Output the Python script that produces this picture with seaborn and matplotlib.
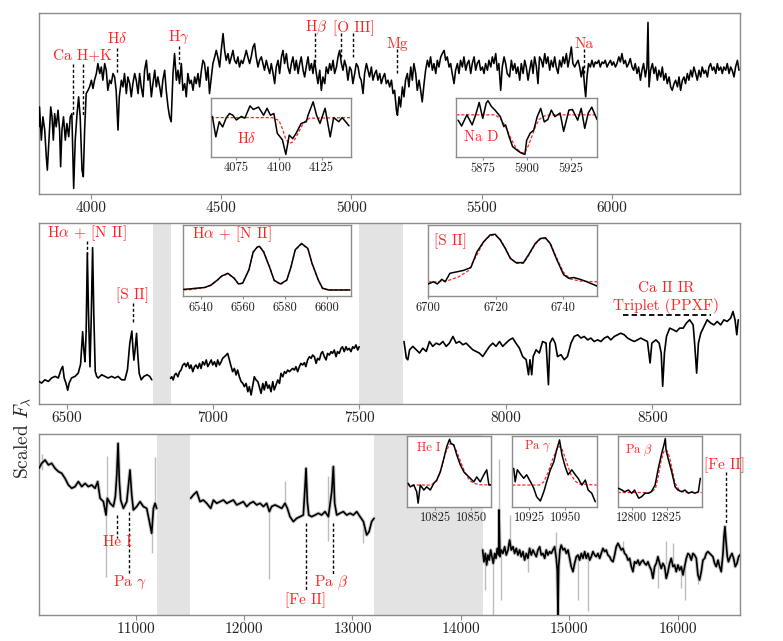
import numpy as np
import pandas as pd
import matplotlib
matplotlib.use("Agg")
import matplotlib.pyplot as plt
import seaborn as sns

# ---- panel 1 : optical blue, (wavelength [A], scaled flux) ----
spec1 = [
    (3802, 37.2), (3804, 48.2), (3811, 29.8), (3817, 42.7), (3824, 35.4), (3830, 20.6), (3834, 13.2),
    (3840, 29.8), (3847, 48.2), (3852, 42.7), (3857, 29.8), (3862, 44.5), (3868, 37.2), (3875, 46.4),
    (3881, 35.4), (3885, 15.1), (3890, 35.4), (3896, 42.7), (3903, 29.8), (3909, 39), (3916, 31.7),
    (3922, 42.7), (3928, 44.5), (3935, 3.1), (3941, 29.8), (3948, 44.5), (3954, 53.8), (3960, 42.7),
    (3967, 13.2), (3972, 9.6), (3977, 35.4), (3983, 55.6), (3990, 57.4), (3996, 59.3), (4003, 63),
    (4009, 58.4), (4015, 63), (4022, 66.7), (4028, 72.2), (4035, 66.7), (4041, 70.3), (4047, 63),
    (4054, 72.2), (4060, 68.5), (4066, 57.4), (4073, 63), (4079, 61.1), (4086, 66.7), (4092, 64.8),
    (4098, 57.4), (4105, 35.4), (4110, 53.8), (4118, 63), (4124, 59.3), (4130, 66.7), (4137, 55.6),
    (4143, 64.8), (4150, 61.1), (4156, 53.8), (4162, 61.1), (4169, 66.7), (4175, 63), (4182, 55.6),
    (4188, 66.7), (4194, 59.3), (4201, 53.8), (4207, 68.5), (4214, 74), (4220, 63), (4226, 66.7),
    (4233, 53.8), (4239, 61.1), (4246, 68.5), (4252, 59.3), (4258, 64.8), (4265, 59.3), (4271, 53.8),
    (4277, 63), (4284, 68.5), (4290, 57.4), (4297, 48.2), (4303, 42.7), (4309, 40), (4316, 66.7),
    (4322, 77.7), (4329, 63), (4335, 68.5), (4341, 61.1), (4348, 72.2), (4354, 57.4), (4361, 61.1),
    (4367, 53.8), (4373, 66.7), (4380, 61.1), (4386, 63), (4393, 57.4), (4399, 64.8), (4405, 61.1),
    (4412, 66.7), (4418, 59.3), (4425, 68.5), (4431, 74), (4437, 72.2), (4444, 63), (4450, 70.3),
    (4456, 55.6), (4463, 64.8), (4469, 72.2), (4476, 75.9), (4482, 79.5), (4488, 75.9), (4495, 70.3),
    (4501, 79.5), (4508, 88.8), (4514, 79.5), (4520, 74), (4527, 77.7), (4533, 72.2), (4540, 75.9),
    (4546, 79.5), (4552, 74), (4559, 72.2), (4565, 75.9), (4571, 70.3), (4578, 74), (4584, 72.2),
    (4591, 75.9), (4597, 79.5), (4603, 75.9), (4610, 72.2), (4616, 75.9), (4623, 81.4), (4629, 83.2),
    (4635, 75.9), (4642, 70.3), (4648, 74), (4655, 75.9), (4661, 72.2), (4667, 68.5), (4674, 74),
    (4680, 70.3), (4687, 66.7), (4693, 72.2),
    (4700, 66.7), (4706, 61.1), (4712, 70.3), (4719, 74), (4725, 66.7), (4732, 75.9), (4738, 79.5),
    (4744, 72.2), (4751, 77.7), (4757, 70.3), (4764, 66.7), (4770, 72.2), (4776, 75.9), (4783, 68.5),
    (4789, 74), (4796, 66.7), (4802, 72.2), (4808, 75.9), (4815, 68.5), (4821, 64.8), (4827, 70.3),
    (4834, 75.9), (4840, 68.5), (4847, 72.2), (4853, 66.7), (4859, 74), (4866, 66.7), (4872, 61.1),
    (4879, 68.5), (4885, 57.4), (4891, 64.8), (4898, 61.1), (4904, 70.3), (4911, 66.7), (4917, 72.2),
    (4923, 68.5), (4930, 74), (4936, 66.7), (4943, 70.3), (4949, 75.9), (4955, 79.5), (4962, 72.2),
    (4968, 68.5), (4974, 74), (4981, 70.3), (4987, 63), (4994, 70.3), (5000, 68.5), (5006, 61.1),
    (5013, 66.7), (5019, 72.2), (5026, 70.3), (5032, 64.8), (5038, 63), (5045, 55.6), (5051, 66.7),
    (5058, 72.2), (5064, 68.5), (5070, 64.8), (5077, 70.3), (5083, 63), (5090, 66.7), (5096, 68.5),
    (5102, 63), (5109, 66.7), (5115, 61.1), (5122, 64.8), (5128, 66.7), (5134, 61.1), (5141, 63),
    (5147, 59.3), (5154, 63), (5160, 55.6), (5166, 57.4), (5173, 46.4), (5177, 43.6), (5183, 53.8),
    (5189, 48.2), (5196, 59.3), (5202, 53.8), (5208, 63), (5215, 66.7), (5221, 59.3), (5228, 70.3),
    (5234, 63), (5240, 72.2), (5247, 66.7), (5253, 57.4), (5260, 63), (5266, 57.4), (5272, 51),
    (5279, 61.1), (5285, 68.5), (5292, 74), (5298, 70.3), (5304, 75.9), (5311, 68.5), (5317, 72.2),
    (5324, 66.7), (5330, 74), (5336, 70.3), (5343, 75.9), (5349, 77.7), (5356, 79.5), (5362, 74),
    (5368, 75.9), (5375, 70.3), (5381, 72.2), (5387, 66.7), (5394, 61.1), (5400, 68.5), (5407, 72.2),
    (5413, 66.7), (5419, 74), (5426, 70.3), (5432, 75.9), (5439, 68.5), (5445, 72.2), (5451, 74),
    (5458, 66.7), (5464, 72.2), (5471, 75.9), (5477, 68.5), (5483, 72.2), (5490, 74), (5496, 68.5),
    (5503, 70.3), (5509, 66.7), (5515, 72.2), (5522, 68.5), (5528, 74), (5535, 70.3), (5541, 75.9),
    (5547, 72.2), (5554, 77.7), (5560, 68.5), (5566, 72.2), (5573, 57.4), (5579, 70.3), (5586, 75.9),
    (5592, 72.2), (5598, 66.7),
    (5607, 64.8), (5614, 74), (5620, 68.5), (5627, 72.2), (5633, 66.7), (5639, 70.3), (5646, 63),
    (5652, 72.2), (5659, 66.7), (5665, 74), (5671, 70.3), (5678, 63), (5684, 68.5), (5691, 74),
    (5697, 66.7), (5703, 75.9), (5710, 70.3), (5716, 61.1), (5722, 75.9), (5729, 74), (5735, 70.3),
    (5742, 77.7), (5748, 72.2), (5754, 75.9), (5761, 68.5), (5767, 74), (5774, 70.3), (5780, 75.9),
    (5786, 70.3), (5793, 66.7), (5799, 74), (5806, 70.3), (5812, 75.9), (5818, 72.2), (5825, 77.7),
    (5831, 70.3), (5838, 75.9), (5844, 81.4), (5850, 72.2), (5857, 70.3), (5863, 72.2), (5870, 74),
    (5876, 70.3), (5882, 64.8), (5889, 70.3), (5895, 59.3), (5899, 53.8), (5904, 64.8), (5910, 72.2),
    (5917, 70.3), (5923, 74), (5930, 70.3), (5936, 73.1), (5942, 72.2), (5949, 74), (5955, 70.3),
    (5962, 73.1), (5968, 72.2), (5974, 74), (5981, 70.3), (5987, 72.2), (5994, 74), (6000, 71.3),
    (6006, 73.1), (6013, 70.3), (6019, 72.2), (6026, 75.9), (6032, 73.1), (6038, 77.7), (6045, 72.2),
    (6051, 74), (6057, 70.3), (6064, 72.2), (6070, 75), (6077, 70.3), (6083, 68.5), (6089, 72.2),
    (6096, 66.7), (6102, 70.3), (6109, 63), (6115, 68.5), (6121, 72.2), (6128, 64.8), (6134, 70.3),
    (6138, 95), (6142, 59.3), (6148, 68.5), (6155, 72.2), (6161, 66.7), (6167, 70.3), (6174, 63),
    (6180, 68.5), (6187, 64.8), (6193, 70.3), (6199, 63), (6206, 66.7), (6212, 61.1), (6219, 64.8),
    (6225, 59.3), (6231, 57.4), (6238, 61.1), (6244, 63), (6251, 59.3), (6257, 64.8), (6263, 57.4),
    (6270, 63), (6276, 64.8), (6282, 61.1), (6289, 66.7), (6295, 63), (6302, 68.5), (6308, 64.8),
    (6314, 70.3), (6321, 66.7), (6327, 63), (6334, 68.5), (6340, 64.8), (6346, 70.3), (6353, 66.7),
    (6359, 68.5), (6366, 64.8), (6372, 70.3), (6378, 72.2), (6385, 68.5), (6391, 70.3), (6398, 66.7),
    (6404, 72.2), (6410, 68.5), (6417, 70.3), (6423, 66.7), (6429, 70.3), (6436, 68.5), (6442, 72.2),
    (6449, 66.7), (6455, 70.3), (6461, 68.5), (6468, 64.8), (6474, 70.3), (6481, 74), (6487, 68.5),
]

# ---- panel 2 : optical red, three pieces between the telluric gaps ----
w2a = [6406, 6415, 6426, 6438, 6449, 6461, 6472, 6481, 6487, 6492,
       6498, 6504, 6509, 6517, 6529, 6540, 6548, 6555, 6559, 6563,
       6567, 6571, 6575, 6580, 6584, 6589, 6593, 6598, 6603, 6608,
       6620, 6631, 6642, 6654, 6665, 6676, 6688, 6699, 6708, 6716,
       6723, 6727, 6730, 6734, 6739, 6743, 6748, 6755, 6764, 6775,
       6784, 6791]
f2a = [12.5, 11.6, 13.4, 12.5, 14.4, 15.3, 14.4, 19, 20.8, 14.4,
       11.6, 7.6, 11.6, 14.4, 15.3, 17.1, 22, 40, 30, 23.4,
       40, 83.5, 50, 20.6, 45, 86.5, 50, 18, 15.3, 14.4,
       16.2, 15.3, 14.4, 15.3, 14.4, 15.3, 13.4, 13.4, 19, 33.7,
       40.4, 30, 24.3, 30, 39.1, 28, 17, 13.4, 15.3, 16.2,
       15.3, 13.4]
spec2b = [
    (6855, 14.2), (6859, 15.1), (6864, 13.3), (6869, 16.1), (6874, 17), (6880, 15.1), (6886, 17.9),
    (6891, 18.8), (6897, 21.6), (6903, 22.5), (6908, 20.7), (6914, 22.9), (6920, 19.7), (6925, 21.6),
    (6931, 17.9), (6937, 20.7), (6942, 21.6), (6948, 19.7), (6954, 22.5), (6959, 19.7), (6965, 23.4),
    (6971, 21.6), (6977, 24.4), (6982, 20.7), (6988, 22.5), (6994, 24.4), (6999, 21.6), (7005, 23.4),
    (7011, 20.7), (7016, 24.4), (7022, 21.6), (7028, 23.4), (7033, 25.3), (7039, 26.2), (7045, 27.1),
    (7050, 28), (7056, 24.4), (7062, 20.7), (7067, 17.9), (7073, 19.7), (7079, 16.1), (7084, 18.8),
    (7090, 15.1), (7096, 12.4), (7102, 11.4), (7107, 9.6), (7113, 11.4), (7119, 6.8), (7124, 9.6),
    (7130, 5), (7136, 10.5), (7141, 15.1), (7147, 13.3), (7153, 12.4), (7158, 9.6), (7164, 5.9),
    (7170, 11.4), (7175, 7.8), (7181, 12.4), (7187, 8.7), (7192, 10.5), (7198, 6.8), (7204, 12.4),
    (7209, 7.8), (7215, 10.5), (7221, 13.3), (7227, 11.4), (7232, 17), (7238, 15.1), (7244, 17.9),
    (7249, 17), (7255, 18.8), (7261, 17.9), (7266, 18.8), (7272, 19.7), (7278, 18.8), (7283, 20.7),
    (7289, 17.9), (7295, 20.7), (7300, 22.5), (7306, 21.6), (7312, 22.9), (7317, 20.7), (7323, 24.4),
    (7329, 26.2), (7335, 25.3), (7340, 27.1), (7346, 26.2), (7352, 22.5), (7357, 25.3), (7363, 24.4),
    (7369, 28), (7374, 29), (7380, 26.2), (7386, 24.4), (7391, 28), (7397, 27.1), (7403, 29),
    (7408, 28), (7414, 29.9), (7420, 26.2), (7425, 29), (7431, 28), (7437, 30.8), (7442, 31.7),
    (7448, 29), (7454, 31.7), (7459, 29.9), (7465, 30.8), (7471, 29), (7477, 31.7), (7482, 30.8),
    (7488, 32.7), (7494, 29.9), (7499, 31.7),
]
w2c = [7652, 7660, 7665, 7671, 7682, 7694, 7705, 7716, 7728, 7739,
       7750, 7762, 7773, 7785, 7796, 7807, 7819, 7830, 7841, 7853,
       7864, 7875, 7887, 7898, 7909, 7921, 7932, 7944, 7955, 7966,
       7978, 7989, 8000, 8012, 8023, 8034, 8046, 8057, 8069, 8077,
       8082, 8088, 8093, 8103, 8114, 8125, 8137, 8145, 8150, 8159,
       8168, 8176, 8188, 8199, 8210, 8222, 8233, 8245, 8256, 8267,
       8279, 8290, 8301, 8313, 8324, 8336, 8347, 8358, 8370, 8381,
       8392, 8404, 8415, 8426, 8438, 8449, 8460, 8472, 8483, 8492,
       8498, 8512, 8523, 8530, 8535, 8541, 8548, 8559, 8571, 8582,
       8593, 8605, 8616, 8627, 8639, 8644, 8651, 8657, 8665, 8676,
       8687, 8699, 8710, 8721, 8733, 8744, 8755, 8767, 8775, 8782,
       8788, 8793]
f2c = [34.6, 25.4, 24.5, 30, 31.9, 30, 28.2, 30.9, 29.1, 34.6,
       31.9, 33.7, 32.8, 34.6, 31.9, 33.7, 37.4, 33.7, 34.6, 32.8,
       33.7, 31.9, 30, 29.1, 28.2, 26.3, 29.1, 31.9, 33.7, 31.9,
       34.6, 31.9, 33.7, 35.5, 36.5, 33.7, 30.9, 26.3, 24.5, 16.2,
       24.5, 16.2, 26.3, 30, 28.2, 34.6, 33.7, 10.7, 33.7, 36.5,
       33.7, 26.3, 27.3, 24.5, 26.3, 33.7, 37.4, 38.3, 36.5, 37.4,
       35.5, 36.5, 34.6, 35.5, 34.6, 36.5, 37.4, 35.5, 37.4, 38.3,
       39.2, 38.3, 36.5, 35.5, 34.6, 35.5, 36.5, 35.5, 34.6, 22.7,
       33.7, 35.5, 33.7, 28.2, 9.8, 28.2, 37.4, 42, 41.1, 40.1,
       42, 42, 44.8, 46.6, 43.8, 33.7, 17.1, 33.7, 39.2, 42.9,
       46.6, 44.8, 43.8, 45.7, 43.8, 46.6, 45.7, 47.5, 51.2, 46.6,
       38.3, 46.6]

# ---- panel 3 : near infrared (smoothed spectrum) ----
w3a = [10110, 10135, 10166, 10197, 10227, 10258, 10289, 10319, 10350, 10381,
       10412, 10442, 10473, 10504, 10535, 10565, 10596, 10627, 10651, 10673,
       10704, 10728, 10740, 10765, 10796, 10814, 10827, 10839, 10851, 10863,
       10888, 10919, 10949, 10965, 10980, 11011, 11042, 11072, 11103, 11128,
       11149, 11165, 11180, 11195]
f3a = [81, 83.8, 85.6, 82.9, 83.8, 81, 79.2, 78.3, 75.5, 71.8,
       70, 70.9, 73.7, 70.9, 72.7, 70.9, 71.8, 70, 73.7, 64.5,
       62.6, 55.2, 64.5, 61.7, 59.9, 65.4, 77.3, 94.8, 73.7, 63.5,
       58.9, 62.6, 80.1, 66.3, 58, 59.9, 62.6, 59.9, 58.9, 51.6,
       45.1, 58.9, 61.7, 58.9]
w3b = [11509, 11533, 11564, 11595, 11625, 11656, 11693, 11718, 11748, 11779,
       11810, 11841, 11871, 11902, 11933, 11964, 11994, 12025, 12056, 12086,
       12117, 12148, 12179, 12209, 12234, 12255, 12286, 12317, 12348, 12378,
       12400, 12424, 12455, 12486, 12517, 12547, 12560, 12572, 12584, 12597,
       12624, 12655, 12686, 12716, 12747, 12778, 12809, 12824, 12836, 12855,
       12885, 12916, 12947, 12978, 13008, 13039, 13070, 13101, 13131, 13153,
       13177, 13199]
f3b = [64.5, 66.3, 68.1, 62.6, 63.5, 61.7, 58.9, 63.5, 61.7, 62.6,
       63.5, 61.7, 62.6, 63.5, 60.8, 61.7, 62.6, 59.9, 61.7, 62.6,
       60.8, 61.7, 59.9, 61.7, 57.1, 59.9, 60.8, 59.9, 58.9, 61.7,
       58.9, 54.3, 51.6, 53.4, 54.3, 55.2, 68.1, 81, 62.6, 55.2,
       54.3, 55.2, 56.2, 55.2, 57.1, 54.3, 68.1, 82, 61.7, 55.2,
       56.2, 57.1, 55.2, 56.2, 55.2, 57.1, 54.3, 51.6, 44.2, 46,
       51.6, 53.4]
spec3c = [
    (14200, 35.9), (14212, 29.4), (14225, 34), (14237, 27.6), (14249, 33.1), (14261, 30.3), (14274, 35.9),
    (14286, 32.2), (14298, 28.5), (14311, 34), (14323, 31.3), (14335, 36.8), (14348, 33.1), (14351, 58),
    (14360, 32.2), (14372, 35.9), (14387, 34), (14403, 37.7), (14418, 33.1), (14434, 35.9), (14449, 41.4),
    (14464, 35.9), (14480, 37.7), (14495, 34), (14510, 36.8), (14526, 33.1), (14541, 35.9), (14556, 32.2),
    (14572, 35), (14587, 30.3), (14603, 34), (14618, 31.3), (14633, 36.8), (14649, 33.1), (14664, 35.9),
    (14679, 34), (14695, 32.2), (14710, 35.9), (14726, 37.7), (14741, 33.1), (14756, 34), (14772, 31.3),
    (14787, 35.9), (14802, 33.1), (14818, 35), (14833, 34), (14848, 35.9), (14864, 37.7), (14879, 31.3),
    (14888, 24.8), (14895, 0), (14901, 26.7), (14913, 35.9), (14925, 38.6), (14941, 35.9), (14956, 36.8),
    (14972, 34), (14987, 35.9), (15002, 31.3), (15017, 26.7), (15033, 23.9), (15048, 28.5), (15064, 32.2),
    (15079, 33.1), (15094, 30.3), (15110, 34), (15125, 31.3), (15141, 35), (15156, 31.3), (15171, 34),
    (15187, 30.3), (15202, 32.2), (15217, 35), (15233, 33.1), (15248, 32.2), (15263, 34), (15279, 31.3),
    (15294, 34), (15309, 36.8), (15325, 35), (15340, 35.9), (15355, 33.1), (15371, 32.2), (15386, 30.3),
    (15402, 29.4), (15417, 33.1), (15432, 37.7), (15448, 39.6), (15463, 37.7), (15478, 35.9), (15494, 36.8),
    (15509, 34), (15524, 33.1), (15540, 30.3), (15555, 31.3), (15571, 26.7), (15586, 23.9), (15601, 29.4),
    (15617, 28.5), (15632, 30.3), (15647, 27.6), (15663, 29.4), (15678, 30.3), (15694, 28.5), (15709, 27.6),
    (15724, 29.4), (15740, 26.7), (15755, 24.8), (15770, 20.2), (15786, 26.7), (15801, 28.5), (15816, 32.2),
    (15832, 28.5), (15847, 25.7), (15862, 28.5), (15878, 26.7), (15893, 20.2), (15909, 23.9), (15924, 28.5),
    (15939, 31.3), (15955, 26.7), (15970, 27.6), (15985, 23.9), (16001, 27.6), (16016, 24.8), (16032, 26.7),
    (16047, 22.1), (16062, 26.7), (16078, 31.3), (16093, 34), (16108, 33.1), (16124, 30.3), (16139, 34),
    (16154, 33.1), (16170, 31.3), (16185, 22.1), (16200, 19.3), (16216, 23.9), (16231, 30.3), (16247, 31.3),
    (16262, 34), (16277, 35), (16293, 34), (16308, 33.1), (16323, 32.2), (16339, 28.5), (16354, 26.7),
    (16370, 30.3), (16385, 26.7), (16400, 23.9), (16416, 34), (16425, 43.2), (16434, 48.8), (16443, 41.4),
    (16456, 32.2), (16466, 29.4), (16483, 32.2), (16499, 34), (16514, 31.3), (16529, 26.7), (16545, 28.5),
    (16560, 32.2), (16572, 33.1),
]
# unsmoothed spectrum: spikes that stick out of the smoothed one (wavelength, low, high)
spike_w = [10135, 10728, 10740, 11149, 11180, 12234, 12378, 12770, 12778, 13101,
           14218, 14295, 14351, 14372, 14455, 14618, 14879, 15079, 15171, 15494,
           15816, 15893, 15955, 16032, 16062, 16185]
spike_lo = [80, 21, 64, 34, 58, 20, 62, 41, 58, 40,
            14, 0, 40, 8, 38, 24, 33, 8, 2, 36,
            15, 28, 27, 15, 8, 17]
spike_hi = [89, 58, 88, 45, 87, 57, 74, 55, 77, 51,
            30, 30, 86, 34, 55, 31, 46, 33, 33, 41,
            32, 41, 40, 27, 27, 22]

# masked telluric bands
bands2 = [(6794, 6855), (7500, 7650)]
bands3 = [(11200, 11500), (13200, 14200)]

# ---- zoom-in insets: data (black) and fit (red dashed) ----
hd_w = [4061, 4063, 4065, 4067, 4069, 4071, 4073, 4075, 4078, 4080, 4083, 4085,
        4088, 4091, 4093, 4095, 4097, 4099, 4102, 4104, 4106, 4108, 4110, 4113,
        4116, 4117, 4120, 4122, 4124, 4127, 4130, 4132, 4135, 4137, 4139, 4141]
hd_f = [0.69, 0.34, 0.60, 0.51, 0.66, 0.74, 0.71, 0.63, 0.69, 0.66, 0.87, 0.81,
        0.85, 0.71, 0.83, 0.71, 0.74, 0.40, 0.29, 0.04, 0.37, 0.31, 0.40, 0.57,
        0.60, 0.71, 0.94, 0.71, 0.57, 0.83, 0.34, 0.67, 0.60, 0.67, 0.60, 0.53]
hd_mw = [4060, 4096, 4100, 4102, 4104, 4106, 4108, 4110, 4112, 4114, 4116, 4118, 4142]
hd_mf = [0.67, 0.67, 0.62, 0.48, 0.30, 0.23, 0.25, 0.33, 0.45, 0.56, 0.63, 0.66, 0.67]

nad_w = [5861, 5863, 5866, 5869, 5871, 5873, 5875, 5877, 5878, 5880, 5882, 5885, 5887,
         5888, 5890, 5892, 5895, 5897, 5899, 5900, 5902, 5904, 5906, 5908, 5910, 5912,
         5914, 5916, 5919, 5921, 5924, 5926, 5929, 5931, 5933, 5935, 5937, 5940]
nad_f = [0.63, 0.53, 0.72, 0.55, 0.72, 0.93, 0.66, 0.92, 0.96, 0.86, 0.80, 0.69, 0.52,
         0.55, 0.35, 0.18, 0.11, 0.07, 0.05, 0.29, 0.41, 0.46, 0.69, 0.83, 0.60, 0.64,
         0.80, 0.69, 0.75, 0.44, 0.80, 0.81, 0.63, 0.83, 0.49, 0.75, 0.85, 0.64]
nad_mw = [5860, 5882, 5885, 5888, 5891, 5894, 5897, 5899, 5901, 5903, 5905, 5907, 5910, 5913, 5940]
nad_mf = [0.72, 0.72, 0.66, 0.52, 0.32, 0.15, 0.08, 0.08, 0.20, 0.36, 0.52, 0.64, 0.70, 0.72, 0.72]

ha_w = [6532, 6535, 6538, 6542, 6545, 6548, 6550, 6553, 6556, 6558, 6560, 6563, 6565, 6567, 6568,
        6570, 6573, 6575, 6578, 6581, 6583, 6585, 6588, 6591, 6593, 6596, 6598, 6601, 6605, 6611]
ha_f = [0.094, 0.10, 0.11, 0.12, 0.155, 0.225, 0.28, 0.32, 0.25, 0.17, 0.18, 0.37, 0.62, 0.69, 0.70,
        0.62, 0.39, 0.22, 0.17, 0.225, 0.41, 0.65, 0.74, 0.67, 0.46, 0.225, 0.11, 0.085, 0.085, 0.085]
ha_mf = [0.085, 0.09, 0.10, 0.12, 0.15, 0.22, 0.28, 0.31, 0.25, 0.17, 0.18, 0.37, 0.61, 0.69, 0.70,
         0.63, 0.40, 0.22, 0.16, 0.22, 0.41, 0.65, 0.73, 0.67, 0.46, 0.22, 0.10, 0.085, 0.085, 0.085]

s2_w = [6700, 6701.5, 6702.7, 6704, 6705, 6706.4, 6708.4, 6710.4, 6712.6, 6714.4,
        6716.4, 6718.3, 6719.8, 6721.3, 6722.8, 6724.3, 6726, 6728.2, 6729.7, 6731.7,
        6733.2, 6734.7, 6736.1, 6738.1, 6740.1, 6741.6, 6743.1, 6745, 6747, 6750]
s2_f = [0.17, 0.20, 0.17, 0.235, 0.20, 0.32, 0.34, 0.36, 0.40, 0.62,
        0.765, 0.86, 0.87, 0.79, 0.67, 0.53, 0.47, 0.47, 0.58, 0.74,
        0.81, 0.82, 0.74, 0.51, 0.30, 0.25, 0.26, 0.235, 0.20, 0.14]
s2_mw = [6700, 6703, 6706, 6709, 6712, 6714.4, 6716.4, 6718.3, 6719.8, 6721.3, 6722.8, 6724.3,
         6726, 6728.2, 6729.7, 6731.7, 6733.2, 6734.7, 6736.1, 6738.1, 6740.1, 6742, 6745, 6750]
s2_mf = [0.20, 0.20, 0.22, 0.27, 0.36, 0.58, 0.76, 0.85, 0.86, 0.80, 0.68, 0.54,
         0.46, 0.46, 0.57, 0.73, 0.80, 0.81, 0.75, 0.53, 0.33, 0.24, 0.21, 0.20]

he_w = [10806, 10807.5, 10810, 10812, 10813, 10814.5, 10817, 10819, 10821.5, 10824,
        10826, 10828.5, 10831, 10833, 10835, 10836, 10838, 10840, 10842.5, 10845,
        10847, 10849.5, 10852, 10854, 10856.5, 10859, 10861, 10862.5, 10864]
he_f = [0.33, 0.28, 0.305, 0.21, 0.05, 0.305, 0.235, 0.28, 0.235, 0.33,
        0.375, 0.49, 0.68, 0.845, 0.95, 0.89, 0.87, 0.73, 0.59, 0.49,
        0.45, 0.40, 0.35, 0.42, 0.35, 0.45, 0.52, 0.305, 0.31]
he_mw = [10805, 10822, 10826, 10829, 10832, 10835, 10837, 10840, 10843, 10846, 10849, 10852, 10856, 10864]
he_mf = [0.305, 0.305, 0.36, 0.52, 0.75, 0.88, 0.89, 0.78, 0.62, 0.47, 0.37, 0.33, 0.31, 0.305]

pag_w = [10914, 10915, 10916.5, 10919, 10921, 10923, 10925.7, 10928, 10930, 10932.6,
         10935, 10937, 10939.6, 10942, 10944, 10946, 10947.7, 10950, 10952, 10954.6,
         10957, 10959, 10961.6, 10964, 10966, 10968.5, 10971]
pag_f = [0.54, 0.35, 0.52, 0.45, 0.40, 0.45, 0.35, 0.26, 0.14, 0.08,
         0.21, 0.35, 0.52, 0.63, 0.80, 0.94, 0.73, 0.56, 0.45, 0.52,
         0.45, 0.40, 0.305, 0.375, 0.235, 0.19, 0.07]
pag_mw = [10913, 10932, 10935, 10938, 10941, 10944, 10946, 10948, 10951, 10954, 10957, 10960, 10972]
pag_mf = [0.305, 0.305, 0.35, 0.48, 0.66, 0.80, 0.85, 0.80, 0.62, 0.45, 0.36, 0.32, 0.305]

pab_w = [12790.5, 12793, 12795, 12797.6, 12800, 12802, 12805, 12807, 12809.5, 12812,
         12814, 12816.7, 12819, 12821.4, 12823, 12824, 12824.5, 12826, 12828.6, 12831,
         12833, 12835.7, 12838, 12840.5, 12843, 12845, 12847.6, 12849]
pab_f = [0.26, 0.235, 0.21, 0.235, 0.19, 0.235, 0.12, 0.14, 0.19, 0.19,
         0.21, 0.305, 0.54, 0.75, 0.87, 0.96, 0.80, 0.68, 0.49, 0.28,
         0.235, 0.21, 0.235, 0.19, 0.21, 0.19, 0.21, 0.40]
pab_mw = [12790, 12814, 12817, 12819, 12821, 12823, 12825, 12827, 12829, 12831, 12834, 12838, 12850]
pab_mf = [0.20, 0.20, 0.26, 0.43, 0.65, 0.78, 0.80, 0.70, 0.51, 0.33, 0.23, 0.20, 0.20]

RED = "#ff2424"
GREY = "#8c8c8c"
DASH = (0, (2.2, 1.6))

sns.set_theme(style="white")
plt.rcParams["font.family"] = ["cmr10", "DejaVu Serif"]
plt.rcParams["mathtext.fontset"] = "cm"
plt.rcParams["axes.unicode_minus"] = False
plt.rcParams["axes.formatter.use_mathtext"] = True

w1, f1 = zip(*spec1)
w2b, f2b = zip(*spec2b)
w3c, f3c = zip(*spec3c)


def spec(ax, parts, color="black", lw=1.2, ls="-", zorder=3):
    frames = [pd.DataFrame({"w": list(w), "f": list(f), "seg": i}) for i, (w, f) in enumerate(parts)]
    df = pd.concat(frames, ignore_index=True)
    sns.lineplot(data=df, x="w", y="f", units="seg", estimator=None, sort=False,
                 color=color, lw=lw, linestyle=ls, ax=ax, zorder=zorder)
    ax.set_xlabel("")
    ax.set_ylabel("")


def style(ax, xlim, ticks, ylim=(0, 100), size=11, tlen=3.5):
    ax.set_xlim(*xlim)
    ax.set_ylim(*ylim)
    ax.set_xticks(ticks)
    ax.set_xticklabels([str(t) for t in ticks])
    ax.set_yticks([])
    ax.tick_params(axis="x", bottom=True, direction="out", length=tlen, width=0.8,
                   color=GREY, labelsize=size, pad=2, labelcolor="#222222")
    for s in ax.spines.values():
        s.set_color(GREY)
        s.set_linewidth(1.0)


def mark(ax, w, y0, y1, label=None, ty=None, tx=None, fs=11):
    tr = ax.get_xaxis_transform()
    ax.plot([w, w], [y0, y1], transform=tr, color="black", lw=1.0, ls=DASH, zorder=4)
    if label is not None:
        ax.text(w if tx is None else tx, ty, label, transform=tr, color=RED,
                fontsize=fs, ha="center", va="center", zorder=5)


def inset(rect, w, f, mw, mf, xlim, ticks, label, lx, ly, fs=10.5):
    a = fig.add_axes(rect, zorder=10)
    a.set_facecolor("white")
    spec(a, [(mw, mf)], color=RED, lw=0.9, ls=(0, (2.5, 1.5)), zorder=2)
    spec(a, [(w, f)], color="black", lw=1.1, zorder=3)
    style(a, xlim, ticks, ylim=(0, 1), size=9, tlen=2)
    a.text(lx, ly, label, transform=a.transAxes, color=RED, fontsize=fs,
           ha="center", va="center")
    return a


fig = plt.figure(figsize=(7.83, 6.41), dpi=100)
ax1 = fig.add_axes([0.0498, 0.6973, 0.8953, 0.2819])
ax2 = fig.add_axes([0.0498, 0.3697, 0.8953, 0.2819])
ax3 = fig.add_axes([0.0498, 0.0406, 0.8953, 0.2824])

# panel 1
spec(ax1, [(w1, f1)], lw=1.15)
style(ax1, (3802, 6491), [4000, 4500, 5000, 5500, 6000])
mark(ax1, 3934, 0.72, 0.43, "Ca H+K", 0.77, tx=3968)
mark(ax1, 3969, 0.72, 0.43)
mark(ax1, 4102, 0.81, 0.67, r"H$\delta$", 0.86)
mark(ax1, 4340, 0.82, 0.72, r"H$\gamma$", 0.87)
mark(ax1, 4861, 0.89, 0.73, r"H$\beta$", 0.92, tx=4865)
mark(ax1, 4959, 0.89, 0.76, "[O III]", 0.92, tx=5008)
mark(ax1, 5007, 0.89, 0.76)
mark(ax1, 5175, 0.80, 0.67, "Mg", 0.83, tx=5178)
mark(ax1, 5893, 0.80, 0.67, "Na", 0.83, tx=5895)

# panel 2
for lo, hi in bands2:
    ax2.axvspan(lo, hi, color="#e3e3e3", lw=0, zorder=1)
spec(ax2, [(w2a, f2a), (w2b, f2b), (w2c, f2c)], lw=1.2)
style(ax2, (6406, 8799), [6500, 7000, 7500, 8000, 8500])
mark(ax2, 6571, 0.90, 0.82, r"H$\alpha$ + [N II]", 0.946, tx=6569)
mark(ax2, 6728, 0.56, 0.45, "[S II]", 0.60, tx=6725)
tr2 = ax2.get_xaxis_transform()
ax2.plot([8398, 8699], [0.49, 0.49], transform=tr2, color="black", lw=1.3, ls=(0, (3, 1.8)))
ax2.text(8547, 0.64, "Ca II IR", transform=tr2, color=RED, fontsize=11, ha="center", va="center")
ax2.text(8547, 0.54, "Triplet (PPXF)", transform=tr2, color=RED, fontsize=11, ha="center", va="center")

# panel 3
for lo, hi in bands3:
    ax3.axvspan(lo, hi, color="#e3e3e3", lw=0, zorder=1)
parts3 = [(w3a, f3a), (w3b, f3b), (w3c, f3c)]
spec(ax3, parts3, color="#c8c8c8", lw=2.6, zorder=2)
ax3.vlines(spike_w, spike_lo, spike_hi, color="#bdbdbd", lw=1.0, zorder=2)
spec(ax3, parts3, lw=1.2)
style(ax3, (10110, 16573), [11000, 12000, 13000, 14000, 15000, 16000])
mark(ax3, 10830, 0.55, 0.425, "He I", 0.40)
mark(ax3, 10938, 0.57, 0.22, r"Pa $\gamma$", 0.18, tx=10945)
mark(ax3, 12570, 0.51, 0.13, "[Fe II]", 0.08)
mark(ax3, 12818, 0.51, 0.22, r"Pa $\beta$", 0.18, tx=12800)
mark(ax3, 16440, 0.79, 0.50, "[Fe II]", 0.83, tx=16430)

fig.text(0.028, 0.317, r"Scaled $F_\lambda$", rotation=90, fontsize=14,
         ha="center", va="center")

# insets
inset([0.2691, 0.7555, 0.1788, 0.0911], hd_w, hd_f, hd_mw, hd_mf, (4060, 4142),
      [4075, 4100, 4125], r"H$\delta$", 0.26, 0.31)
inset([0.5828, 0.7546, 0.1797, 0.0920], nad_w, nad_f, nad_mw, nad_mf, (5860, 5940),
      [5875, 5900, 5925], "Na D", 0.18, 0.34)
inset([0.2333, 0.5382, 0.2149, 0.1108], ha_w, ha_f, ha_w, ha_mf, (6531.5, 6611.5),
      [6540, 6560, 6580, 6600], r"H$\alpha$ + [N II]", 0.29, 0.87, fs=11)
inset([0.5470, 0.5382, 0.2155, 0.1108], s2_w, s2_f, s2_mw, s2_mf, (6700, 6750),
      [6700, 6720, 6740], "[S II]", 0.13, 0.77, fs=11)
inset([0.5194, 0.2095, 0.1077, 0.1108], he_w, he_f, he_mw, he_mf, (10805, 10864),
      [10825, 10850], "He I", 0.26, 0.83, fs=9)
inset([0.6543, 0.2095, 0.1078, 0.1108], pag_w, pag_f, pag_mw, pag_mf, (10913, 10972),
      [10925, 10950], r"Pa $\gamma$", 0.30, 0.85, fs=9)
inset([0.7889, 0.2095, 0.1073, 0.1108], pab_w, pab_f, pab_mw, pab_mf, (12790, 12850),
      [12800, 12825], r"Pa $\beta$", 0.25, 0.80, fs=9)

fig.savefig("out.png", dpi=100)
